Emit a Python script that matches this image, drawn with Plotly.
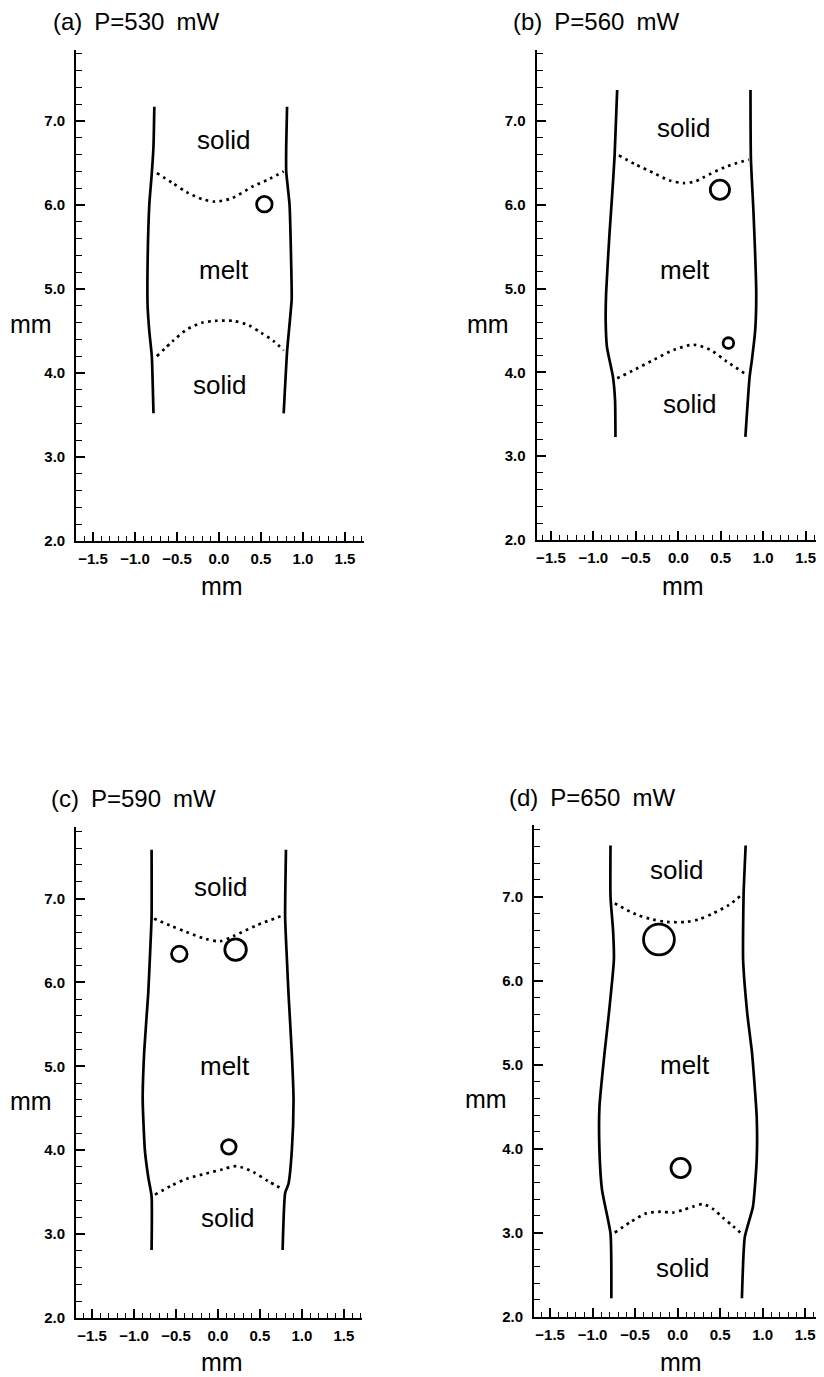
import plotly.graph_objects as go

# ---------------- data (mm) ----------------
titles = ["(a)\u2002P=530\u2002mW", "(b)\u2002P=560\u2002mW", "(c)\u2002P=590\u2002mW", "(d)\u2002P=650\u2002mW"]

# panel (a)
a_left_x = [-0.77, -0.78, -0.80, -0.83, -0.85, -0.85, -0.83, -0.80, -0.79, -0.78]
a_left_y = [7.17, 6.70, 6.38, 6.00, 5.30, 4.80, 4.50, 4.20, 3.90, 3.52]
a_right_x = [0.81, 0.80, 0.80, 0.84, 0.865, 0.865, 0.81, 0.77]
a_right_y = [7.17, 6.70, 6.40, 6.00, 5.00, 4.87, 4.25, 3.52]
a_up_x = [-0.74, -0.55, -0.38, -0.20, -0.05, 0.15, 0.40, 0.60, 0.77]
a_up_y = [6.38, 6.26, 6.15, 6.07, 6.04, 6.08, 6.22, 6.31, 6.40]
a_lo_x = [-0.74, -0.55, -0.38, -0.20, -0.05, 0.17, 0.35, 0.50, 0.65, 0.77]
a_lo_y = [4.20, 4.38, 4.52, 4.60, 4.62, 4.62, 4.57, 4.48, 4.38, 4.27]
a_bub_x = [0.54]
a_bub_y = [6.01]
a_bub_d = [0.185]
a_lab_x = [0.05, 0.06, 0.00]
a_lab_y = [6.77, 5.23, 3.86]

# panel (b)
b_left_x = [-0.72, -0.75, -0.78, -0.81, -0.85, -0.855, -0.84, -0.77, -0.745, -0.74]
b_left_y = [7.37, 6.59, 6.10, 5.66, 4.95, 4.60, 4.30, 3.95, 3.67, 3.23]
b_right_x = [0.85, 0.855, 0.886, 0.918, 0.906, 0.867, 0.84, 0.79]
b_right_y = [7.37, 6.55, 5.90, 4.94, 4.51, 4.15, 3.95, 3.23]
b_up_x = [-0.70, -0.50, -0.29, -0.10, 0.06, 0.20, 0.30, 0.55, 0.83]
b_up_y = [6.59, 6.48, 6.38, 6.29, 6.26, 6.28, 6.33, 6.45, 6.54]
b_lo_x = [-0.72, -0.50, -0.29, -0.05, 0.18, 0.376, 0.57, 0.81]
b_lo_y = [3.93, 4.04, 4.15, 4.27, 4.33, 4.27, 4.13, 3.97]
b_bub_x = [0.49, 0.59]
b_bub_y = [6.18, 4.35]
b_bub_d = [0.226, 0.125]
b_lab_x = [0.06, 0.08, 0.13]
b_lab_y = [6.92, 5.22, 3.62]

# panel (c)
c_left_x = [-0.79, -0.79, -0.81, -0.83, -0.877, -0.896, -0.87, -0.83, -0.79, -0.79]
c_left_y = [7.58, 6.78, 6.30, 5.87, 5.19, 4.60, 4.00, 3.68, 3.45, 2.81]
c_right_x = [0.81, 0.80, 0.82, 0.84, 0.88, 0.90, 0.88, 0.84, 0.80, 0.77]
c_right_y = [7.58, 6.78, 6.30, 5.87, 5.15, 4.60, 4.00, 3.60, 3.49, 2.81]
c_up_x = [-0.76, -0.55, -0.375, -0.15, 0.02, 0.18, 0.46, 0.78]
c_up_y = [6.76, 6.67, 6.60, 6.52, 6.49, 6.55, 6.68, 6.80]
c_lo_x = [-0.75, -0.55, -0.37, -0.15, 0.05, 0.22, 0.42, 0.60, 0.78]
c_lo_y = [3.47, 3.58, 3.66, 3.72, 3.77, 3.81, 3.74, 3.63, 3.53]
c_bub_x = [-0.46, 0.21, 0.13]
c_bub_y = [6.34, 6.39, 4.04]
c_bub_d = [0.185, 0.256, 0.173]
c_lab_x = [0.03, 0.08, 0.115]
c_lab_y = [7.14, 5.00, 3.19]

# panel (d)
d_left_x = [-0.79, -0.79, -0.76, -0.75, -0.81, -0.86, -0.92, -0.92, -0.89, -0.79, -0.78]
d_left_y = [7.61, 7.00, 6.60, 6.25, 5.60, 5.14, 4.50, 3.98, 3.51, 2.99, 2.22]
d_right_x = [0.80, 0.776, 0.77, 0.77, 0.82, 0.875, 0.93, 0.93, 0.886, 0.79, 0.756]
d_right_y = [7.61, 7.04, 6.60, 6.25, 5.60, 5.14, 4.38, 3.87, 3.31, 2.95, 2.22]
d_up_x = [-0.74, -0.49, -0.30, -0.13, 0.10, 0.25, 0.415, 0.60, 0.75]
d_up_y = [6.92, 6.79, 6.73, 6.70, 6.70, 6.73, 6.80, 6.90, 7.02]
d_lo_x = [-0.74, -0.55, -0.37, -0.20, -0.055, 0.06, 0.18, 0.30, 0.42, 0.53, 0.65, 0.76]
d_lo_y = [3.00, 3.13, 3.23, 3.25, 3.24, 3.27, 3.31, 3.34, 3.28, 3.18, 3.08, 2.98]
d_bub_x = [-0.22, 0.035]
d_bub_y = [6.49, 3.77]
d_bub_d = [0.363, 0.226]
d_lab_x = [-0.015, 0.09, 0.06]
d_lab_y = [7.32, 5.00, 2.58]

region_labels = ["solid", "melt", "solid"]

panels = [
    dict(left=(a_left_x, a_left_y), right=(a_right_x, a_right_y), up=(a_up_x, a_up_y),
         lo=(a_lo_x, a_lo_y), bub=(a_bub_x, a_bub_y, a_bub_d), lab=(a_lab_x, a_lab_y)),
    dict(left=(b_left_x, b_left_y), right=(b_right_x, b_right_y), up=(b_up_x, b_up_y),
         lo=(b_lo_x, b_lo_y), bub=(b_bub_x, b_bub_y, b_bub_d), lab=(b_lab_x, b_lab_y)),
    dict(left=(c_left_x, c_left_y), right=(c_right_x, c_right_y), up=(c_up_x, c_up_y),
         lo=(c_lo_x, c_lo_y), bub=(c_bub_x, c_bub_y, c_bub_d), lab=(c_lab_x, c_lab_y)),
    dict(left=(d_left_x, d_left_y), right=(d_right_x, d_right_y), up=(d_up_x, d_up_y),
         lo=(d_lo_x, d_lo_y), bub=(d_bub_x, d_bub_y, d_bub_d), lab=(d_lab_x, d_lab_y)),
]

# ---------------- layout geometry (window pixels) ----------------
# the page body has an 8px margin, so the figure is placed at (8, 8)
OFF = 8
W, H = 824 - OFF, 1377 - OFF
# (x0px, x1px, xrange, ytop_px, ybot_px, yrange) in window pixels
geo = [
    (76.2, 363.5, [-1.70, 1.72], 49.6, 541.0, [2.0, 7.85]),
    (536.5, 823.5, [-1.67, 1.71], 49.8, 540.0, [2.0, 7.85]),
    (76.0, 362.4, [-1.69, 1.72], 827.2, 1318.0, [2.0, 7.85]),
    (534.0, 823.0, [-1.69, 1.71], 825.3, 1316.7, [2.0, 7.85]),
]
title_pos = [(51, 22), (511, 22), (49, 799), (507, 797)]
xtitle_pos = [(222, 586), (683, 586), (222, 1362), (681, 1362)]
ytitle_pos = [(31, 324), (488, 324), (31, 1101), (486, 1099)]


def fx(px):
    return (px - OFF) / W


def fy(py):
    return 1 - (py - OFF) / H


FONT = "Liberation Sans, Arial, Helvetica, sans-serif"
TITLE = 24
AXT = 25
LAB = 26

fig = go.Figure()
layout = dict(
    width=W, height=H, margin=dict(l=0, r=0, t=0, b=0, autoexpand=False),
    paper_bgcolor="white", plot_bgcolor="white", showlegend=False,
    font=dict(family=FONT, color="black"),
)
annotations = []

for i, (p, g) in enumerate(zip(panels, geo)):
    n = "" if i == 0 else str(i + 1)
    xa, ya = "x" + n, "y" + n
    x0, x1, xr, yt, yb, yr = g
    pxmm = (x1 - x0) / (xr[1] - xr[0])

    for key in ("left", "right"):
        xs, ys = p[key]
        fig.add_trace(go.Scatter(x=xs, y=ys, xaxis=xa, yaxis=ya, mode="lines",
                                 line=dict(color="black", width=2.7, shape="spline", smoothing=0.5),
                                 hoverinfo="skip"))
    for key in ("up", "lo"):
        xs, ys = p[key]
        fig.add_trace(go.Scatter(x=xs, y=ys, xaxis=xa, yaxis=ya, mode="lines",
                                 line=dict(color="black", width=2.7, dash="2.7px,4.3px",
                                           shape="spline", smoothing=0.8),
                                 hoverinfo="skip"))
    bx, by, bd = p["bub"]
    fig.add_trace(go.Scatter(x=bx, y=by, xaxis=xa, yaxis=ya, mode="markers",
                             marker=dict(symbol="circle-open", color="black", opacity=1,
                                         size=[d * pxmm for d in bd],
                                         line=dict(width=2.8, color="black")),
                             hoverinfo="skip"))
    lx, ly = p["lab"]
    for t, tx, ty in zip(region_labels, lx, ly):
        annotations.append(dict(x=tx, y=ty, xref=xa, yref=ya, text=t, showarrow=False,
                                xanchor="center", yanchor="middle",
                                font=dict(family=FONT, size=LAB, color="black")))

    axis_common = dict(showline=True, linecolor="black", linewidth=2, mirror=False,
                       showgrid=False, zeroline=False, ticks="inside", tickcolor="black",
                       tickwidth=1.5, tickformat=".1f", automargin=False,
                       tickfont=dict(family=FONT, size=15, color="black", weight="bold"))
    layout["xaxis" + n] = dict(
        axis_common, domain=[fx(x0), min(fx(x1), 1.0)], range=xr, anchor=ya,
        tick0=0, dtick=0.5, ticklen=9, ticklabelstandoff=3,
        minor=dict(dtick=0.1, tick0=0, ticklen=5, tickwidth=1.3, tickcolor="black",
                   ticks="inside", showgrid=False))
    layout["yaxis" + n] = dict(
        axis_common, domain=[fy(yb), fy(yt)], range=yr, anchor=xa,
        tick0=0, dtick=1, ticklen=9, ticklabelstandoff=6,
        minor=dict(dtick=0.2, tick0=0, ticklen=6, tickwidth=1.3, tickcolor="black",
                   ticks="inside", showgrid=False))

    tx, ty = title_pos[i]
    annotations.append(dict(x=fx(tx), y=fy(ty), xref="paper", yref="paper",
                            text=titles[i], showarrow=False, xanchor="left", yanchor="middle",
                            font=dict(family=FONT, size=TITLE, color="black")))
    tx, ty = xtitle_pos[i]
    annotations.append(dict(x=fx(tx), y=fy(ty), xref="paper", yref="paper",
                            text="mm", showarrow=False, xanchor="center", yanchor="middle",
                            font=dict(family=FONT, size=AXT, color="black")))
    tx, ty = ytitle_pos[i]
    annotations.append(dict(x=fx(tx), y=fy(ty), xref="paper", yref="paper",
                            text="mm", showarrow=False, xanchor="center", yanchor="middle",
                            font=dict(family=FONT, size=AXT, color="black")))

layout["annotations"] = annotations
fig.update_layout(**layout)
fig.write_html("out.html")
